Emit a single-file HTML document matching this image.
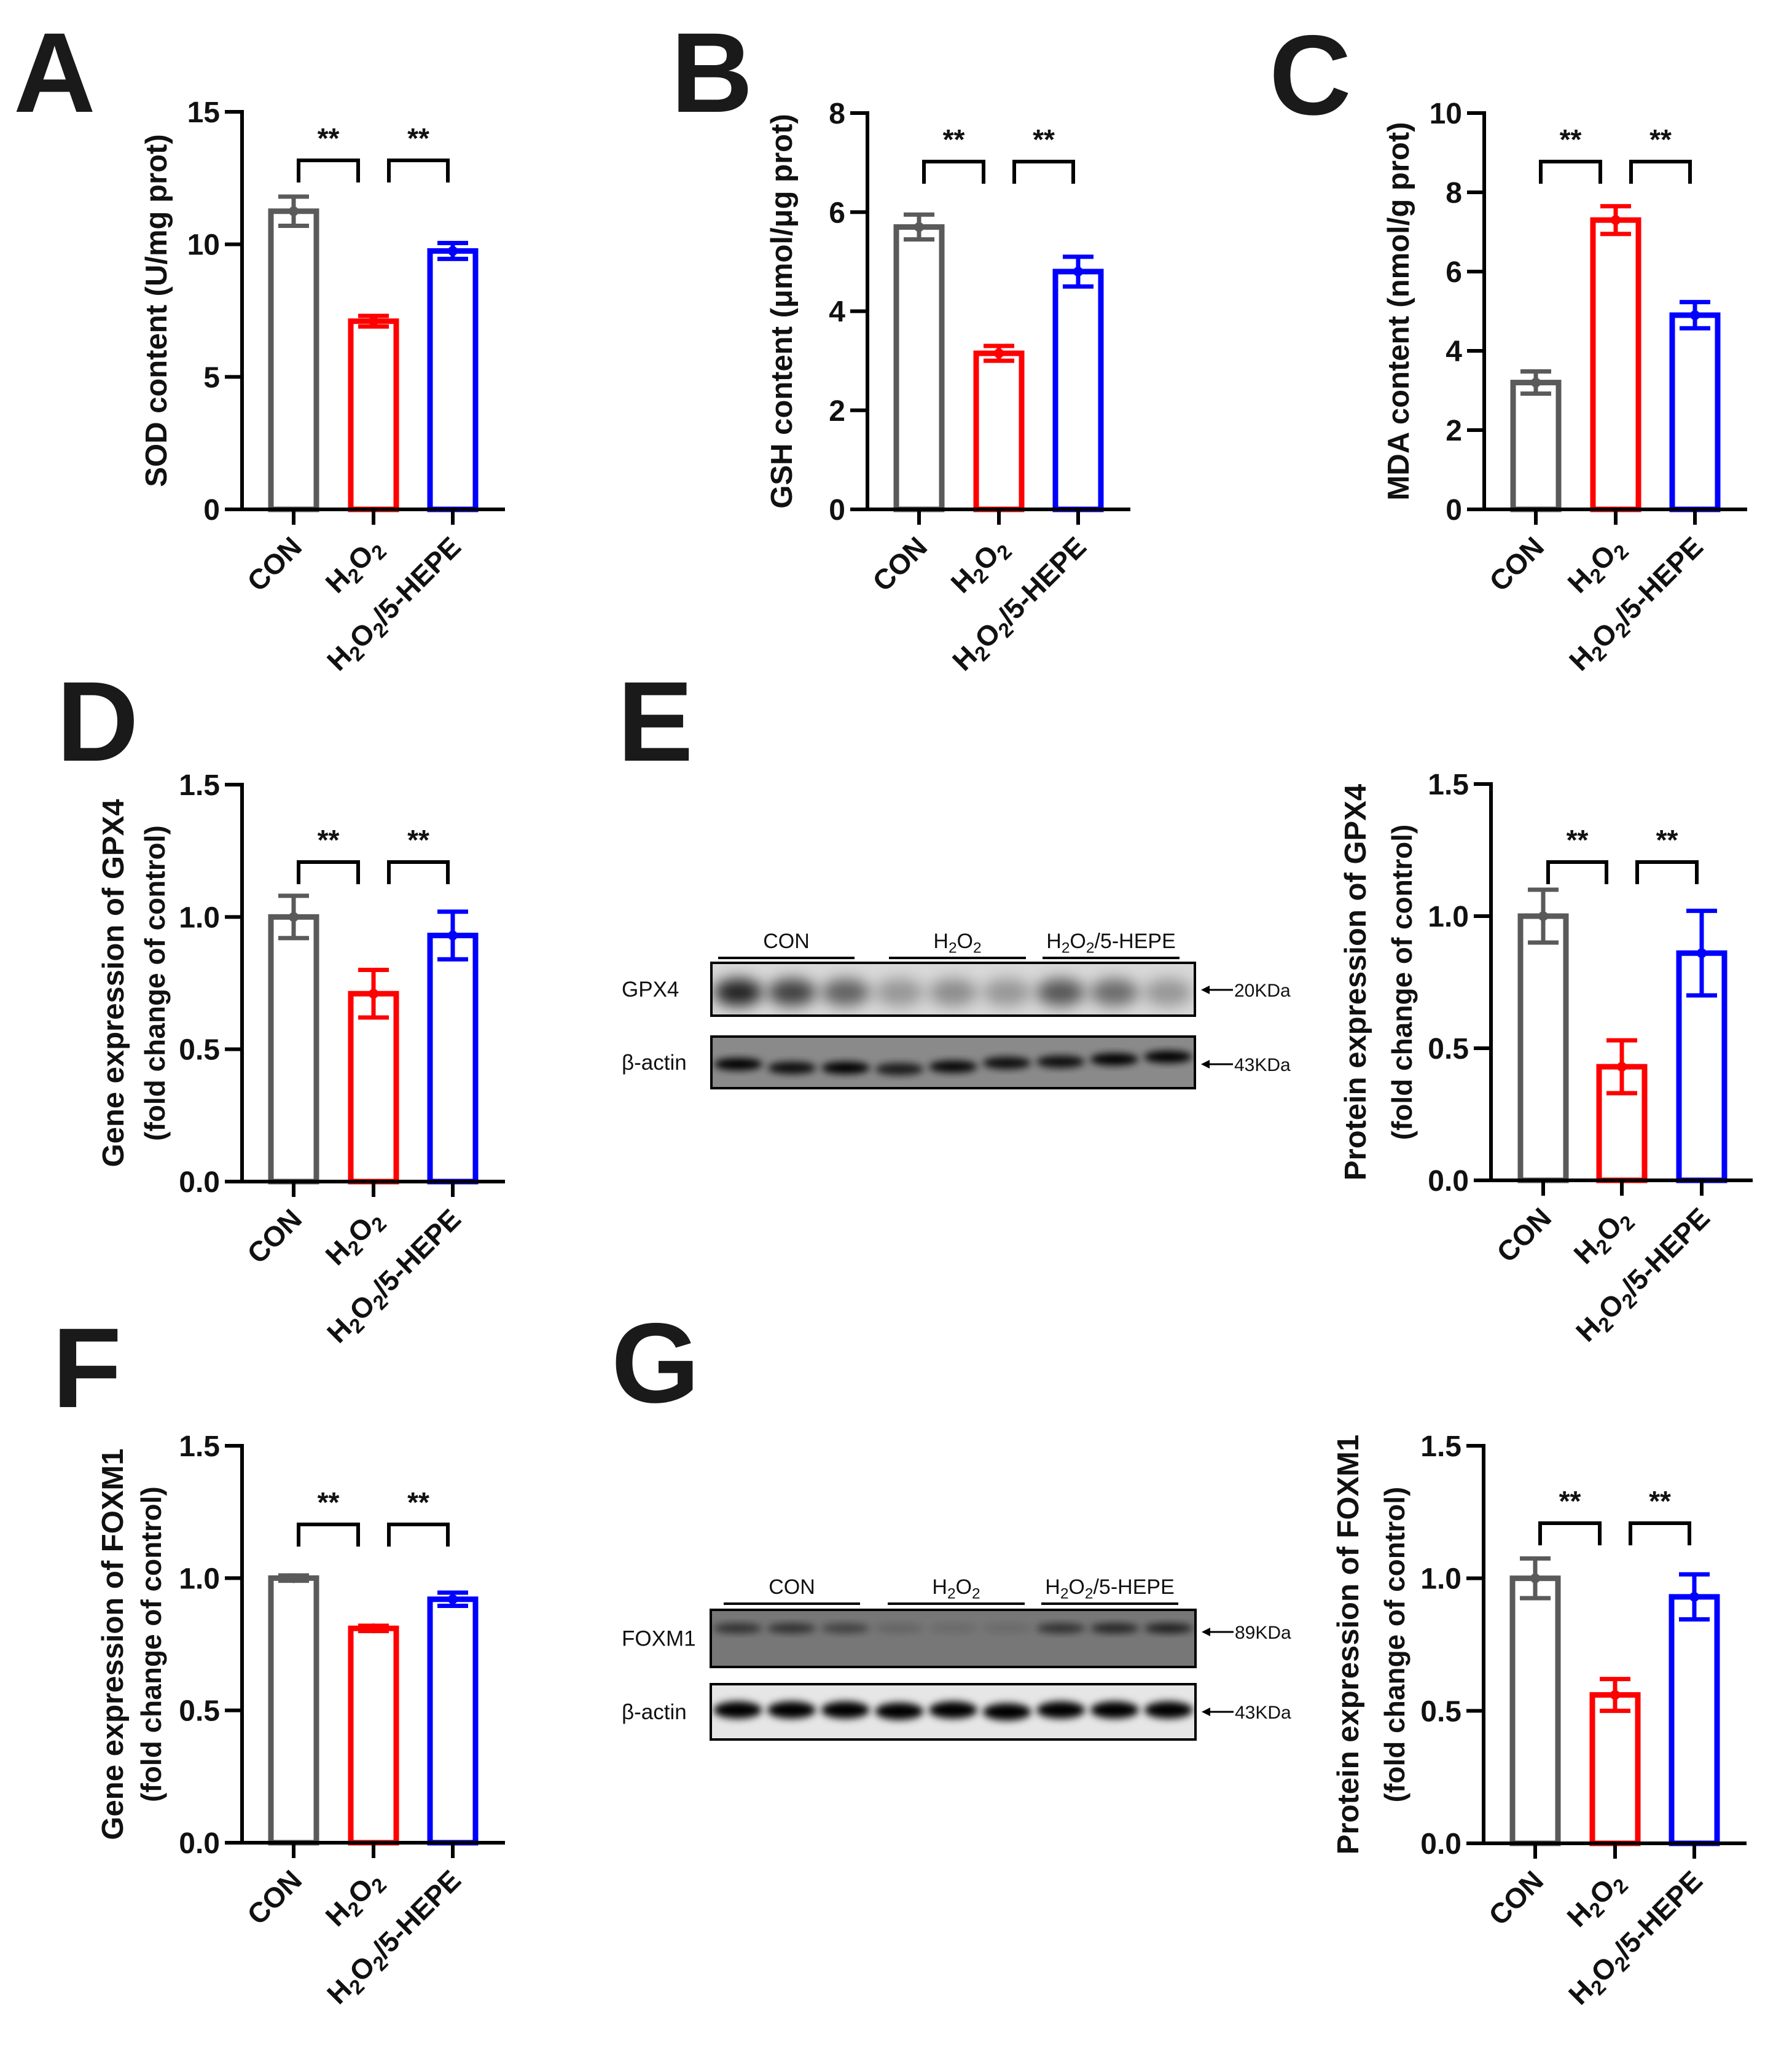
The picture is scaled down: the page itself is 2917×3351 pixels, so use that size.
<!DOCTYPE html>
<html><head><meta charset="utf-8"><style>
html,body{margin:0;padding:0;background:#fff}
svg{display:block;font-family:"Liberation Sans",Arial,sans-serif}
</style></head><body>
<svg id="fig" width="2917" height="3351" viewBox="0 0 2917 3351" xmlns="http://www.w3.org/2000/svg">
<defs>
<filter id="blur6" x="-50%" y="-50%" width="200%" height="200%"><feGaussianBlur stdDeviation="6"/></filter>
<filter id="blur12" x="-50%" y="-50%" width="200%" height="200%"><feGaussianBlur stdDeviation="12"/></filter>
</defs>
</svg>
<script>
const categories = ["CON", "H2O2", "H2O2/5-HEPE"];
const colors = ["#5a5a5a", "#ff0000", "#0000ff"];
const sodMeans = [11.25, 7.1, 9.75];
const sodErrs = [0.55, 0.2, 0.3];
const sodTicks = [0, 5, 10, 15];
const gshMeans = [5.7, 3.15, 4.8];
const gshErrs = [0.25, 0.15, 0.3];
const gshTicks = [0, 2, 4, 6, 8];
const mdaMeans = [3.2, 7.3, 4.9];
const mdaErrs = [0.28, 0.35, 0.33];
const mdaTicks = [0, 2, 4, 6, 8, 10];
const gpx4GeneMeans = [1.0, 0.71, 0.93];
const gpx4GeneErrs = [0.08, 0.09, 0.09];
const gpx4ProtMeans = [1.0, 0.43, 0.86];
const gpx4ProtErrs = [0.1, 0.1, 0.16];
const foxm1GeneMeans = [1.0, 0.81, 0.92];
const foxm1GeneErrs = [0.01, 0.01, 0.025];
const foxm1ProtMeans = [1.0, 0.56, 0.93];
const foxm1ProtErrs = [0.075, 0.06, 0.085];
const foldTicks = ["0.0", "0.5", "1.0", "1.5"];

const svg = document.getElementById('fig');
const NS = 'http://www.w3.org/2000/svg';
function mk(tag, attrs, parent) {
  const e = document.createElementNS(NS, tag);
  for (const k in attrs) e.setAttribute(k, attrs[k]);
  (parent || svg).appendChild(e);
  return e;
}
function labelText(parent, txt, x, y, size, anchor, weight, rot) {
  const t = mk('text', {x: x, y: y, 'font-size': size, 'text-anchor': anchor, 'font-weight': weight || 'bold', fill: '#111'}, parent);
  if (rot) t.setAttribute('transform', 'rotate(' + rot + ' ' + x + ' ' + y + ')');
  if (txt.indexOf('H2O2') >= 0) {
    const segs = [['H',0],['2',1],['O',0],['2',1],[txt.slice(4),0]];
    segs.forEach(s => {
      if (!s[0]) return;
      const sp = mk('tspan', {}, t);
      if (s[1]) { sp.setAttribute('font-size', size * 0.72); sp.setAttribute('dy', size * 0.22); }
      else if (sp.previousSibling) { sp.setAttribute('dy', -size * 0.22); }
      sp.textContent = s[0];
    });
  } else t.textContent = txt;
  return t;
}

function panelLetter(ch, x, y) {
  const t = mk('text', {x: x, y: y, 'font-size': 185, 'font-weight': 'bold', fill: '#1a1a1a'});
  
  
  t.textContent = ch;
}

function barChart(cfg) {
  const g = mk('g', {});
  
  
  const yScale = v => cfg.y0 - (v / cfg.ymax) * (cfg.y0 - cfg.yTop);
  const xAt = i => cfg.ax + cfg.offs[i];
  const bw = 74;
  cfg.means.forEach((m, i) => {
    const r = mk('rect', {x: xAt(i) - bw / 2, y: yScale(m), width: bw, height: cfg.y0 - yScale(m), fill: '#fff', stroke: colors[i], 'stroke-width': 9}, g);
    
    
  });
  cfg.means.forEach((m, i) => {
    const eg = mk('g', {stroke: colors[i], 'stroke-width': 7}, g);
    
    
    const x = xAt(i), hi = yScale(m + cfg.errs[i]), lo = yScale(m - cfg.errs[i]);
    mk('line', {x1: x, x2: x, y1: hi, y2: lo}, eg);
    mk('line', {x1: x - 25, x2: x + 25, y1: hi, y2: hi}, eg);
    mk('line', {x1: x - 25, x2: x + 25, y1: lo, y2: lo}, eg);
    mk('circle', {cx: x, cy: yScale(m), r: 8, fill: colors[i], stroke: 'none'}, eg);
  });
  const axg = mk('g', {stroke: '#000', 'stroke-width': 6, fill: 'none'}, g);
  
  
  mk('line', {x1: cfg.ax, x2: cfg.ax, y1: cfg.yTop - 3, y2: cfg.y0 + 3}, axg);
  mk('line', {x1: cfg.ax - 28, x2: cfg.xEnd, y1: cfg.y0, y2: cfg.y0}, axg);
  cfg.ticks.forEach(tv => {
    const y = yScale(parseFloat(tv));
    mk('line', {x1: cfg.ax - 28, x2: cfg.ax, y1: y, y2: y}, axg);
    const t = mk('text', {x: cfg.ax - 36, y: y + 17, 'font-size': 48, 'font-weight': 'bold', 'text-anchor': 'end', fill: '#111', stroke: 'none'}, g);
    
    
    t.textContent = tv;
  });
  cfg.means.forEach((m, i) => {
    mk('line', {x1: xAt(i), x2: xAt(i), y1: cfg.y0, y2: cfg.y0 + 25}, axg);
  });
  if (cfg.xlabels) {
    categories.forEach((c, i) => {
      const t = labelText(g, c, xAt(i) + 16, cfg.y0 + 64, 46, 'end', 'bold', -45);
      
      
    });
  }
  const midY = (cfg.yTop + cfg.y0) / 2;
  cfg.title.forEach((line, k) => {
    const x = cfg.ax + cfg.titleOffs[k];
    const t = mk('text', {x: x, y: midY, 'font-size': k === 0 ? 49 : 46, 'font-weight': 'bold', 'text-anchor': 'middle', fill: '#111', transform: 'rotate(-90 ' + x + ' ' + midY + ')'}, g);
    
    
    t.setAttribute('dominant-baseline', 'central');
    t.textContent = line;
  });
  const pairs = [[xAt(0) + 8, xAt(1) - 25], [xAt(1) + 25, xAt(2) - 8]];
  pairs.forEach(p => {
    const b = mk('path', {d: 'M' + p[0] + ' ' + (cfg.brY + 36) + 'V' + cfg.brY + 'H' + p[1] + 'V' + (cfg.brY + 36), fill: 'none', stroke: '#000', 'stroke-width': 6}, g);
    
    
    const s = mk('text', {x: (p[0] + p[1]) / 2, y: cfg.brY - 20, 'font-size': 46, 'font-weight': 'bold', 'text-anchor': 'middle', fill: '#111'}, g);
    
    
    s.textContent = '**';
  });
}

const offsA = [84, 214, 343];
panelLetter('A', 22, 182);
barChart({name: 'chart-sod', ax: 394, yTop: 182, y0: 829, xEnd: 822, ymax: 15, ticks: sodTicks.map(String), offs: offsA, means: sodMeans, errs: sodErrs, title: ['SOD content (U/mg prot)'], titleOffs: [-139], brY: 261, xlabels: true});
panelLetter('B', 1092, 182);
barChart({name: 'chart-gsh', ax: 1412, yTop: 184, y0: 829, xEnd: 1840, ymax: 8, ticks: gshTicks.map(String), offs: offsA, means: gshMeans, errs: gshErrs, title: ['GSH content (\u03bcmol/\u03bcg prot)'], titleOffs: [-139], brY: 263, xlabels: true});
panelLetter('C', 2066, 186);
barChart({name: 'chart-mda', ax: 2416, yTop: 184, y0: 829, xEnd: 2844, ymax: 10, ticks: mdaTicks.map(String), offs: offsA, means: mdaMeans, errs: mdaErrs, title: ['MDA content (nmol/g prot)'], titleOffs: [-139], brY: 263, xlabels: true});

panelLetter('D', 92, 1238);
barChart({name: 'chart-gpx4-gene', ax: 394, yTop: 1277, y0: 1923, xEnd: 822, ymax: 1.5, ticks: foldTicks, offs: offsA, means: gpx4GeneMeans, errs: gpx4GeneErrs, title: ['Gene expression of GPX4', '(fold change of control)'], titleOffs: [-209, -142], brY: 1403, xlabels: true});
panelLetter('E', 1005, 1238);
barChart({name: 'chart-gpx4-protein', ax: 2427, yTop: 1276, y0: 1921, xEnd: 2853, ymax: 1.5, ticks: foldTicks, offs: [85, 213, 343], means: gpx4ProtMeans, errs: gpx4ProtErrs, title: ['Protein expression of GPX4', '(fold change of control)'], titleOffs: [-220, -145], brY: 1403, xlabels: true});

panelLetter('F', 85, 2290);
barChart({name: 'chart-foxm1-gene', ax: 394, yTop: 2353, y0: 2999, xEnd: 822, ymax: 1.5, ticks: foldTicks, offs: offsA, means: foxm1GeneMeans, errs: foxm1GeneErrs, title: ['Gene expression of FOXM1', '(fold change of control)'], titleOffs: [-210, -148], brY: 2481, xlabels: true});
panelLetter('G', 995, 2282);
barChart({name: 'chart-foxm1-protein', ax: 2415, yTop: 2353, y0: 3000, xEnd: 2843, ymax: 1.5, ticks: foldTicks, offs: offsA, means: foxm1ProtMeans, errs: foxm1ProtErrs, title: ['Protein expression of FOXM1', '(fold change of control)'], titleOffs: [-220, -145], brY: 2479, xlabels: true});

function blot(cfg) {
  const g = mk('g', {});
  
  
  const lanesX = [];
  const w = cfg.x2 - cfg.x1;
  for (let i = 0; i < 9; i++) lanesX.push(cfg.x1 + w * (i + 0.5) / 9);
  cfg.groups.forEach((gr, k) => {
    const l = mk('line', {x1: gr[0], x2: gr[1], y1: cfg.lineY, y2: cfg.lineY, stroke: '#000', 'stroke-width': 4}, g);
    
    
    const t = labelText(g, categories[k], (gr[0] + gr[1]) / 2, cfg.lineY - 16, 34, 'middle', 'normal', 0);
    
    
  });
  cfg.rows.forEach(row => {
    const rg = mk('g', {}, g);
    
    
    const clip = 'clip' + Math.round(row.y1);
    const cp = mk('clipPath', {id: clip}, rg);
    mk('rect', {x: cfg.x1, y: row.y1, width: w, height: row.y2 - row.y1}, cp);
    const inner = mk('g', {'clip-path': 'url(#' + clip + ')'}, rg);
    mk('rect', {x: cfg.x1, y: row.y1, width: w, height: row.y2 - row.y1, fill: row.bg}, inner);
    row.bands.forEach((b, i) => {
      mk('ellipse', {cx: lanesX[i], cy: row.bandY + (row.shift ? row.shift[i] : 0), rx: w / 20, ry: row.bandH, fill: '#000', opacity: b, filter: 'url(#' + row.blur + ')'}, inner);
    });
    mk('rect', {x: cfg.x1, y: row.y1, width: w, height: row.y2 - row.y1, fill: 'none', stroke: '#000', 'stroke-width': 4}, rg);
    const lt = mk('text', {x: cfg.labelX, y: (row.y1 + row.y2) / 2 + 12, 'font-size': 35, fill: '#111'}, rg);
    lt.textContent = row.label;
    const ay = row.arrowY;
    mk('line', {x1: cfg.x2 + 14, x2: cfg.x2 + 62, y1: ay, y2: ay, stroke: '#000', 'stroke-width': 3}, rg);
    mk('path', {d: 'M' + (cfg.x2 + 10) + ' ' + ay + 'l14 -7v14z', fill: '#000'}, rg);
    const kt = mk('text', {x: cfg.x2 + 64, y: ay + 11, 'font-size': 30, fill: '#111'}, rg);
    kt.textContent = row.kda;
  });
}
blot({name: 'western-blot-gpx4', x1: 1158, x2: 1945, labelX: 1012, lineY: 1559,
  groups: [[1169, 1391], [1447, 1670], [1697, 1920]],
  rows: [
    {label: 'GPX4', y1: 1567, y2: 1653, bg: '#d8d8d8', blur: 'blur12', bandY: 1615, bandH: 22, arrowY: 1611, kda: '20KDa',
     bands: [0.85, 0.7, 0.55, 0.3, 0.35, 0.3, 0.6, 0.5, 0.3]},
    {label: '\u03b2-actin', y1: 1687, y2: 1771, bg: '#8a8a8a', blur: 'blur6', bandY: 1732, bandH: 10, arrowY: 1732, kda: '43KDa',
     bands: [1, 0.9, 1, 0.8, 0.95, 0.9, 0.9, 1, 1], shift: [0, 6, 6, 8, 4, -2, -4, -8, -12]}
  ]});
blot({name: 'western-blot-foxm1', x1: 1157, x2: 1946, labelX: 1012, lineY: 2610,
  groups: [[1178, 1400], [1445, 1668], [1695, 1918]],
  rows: [
    {label: 'FOXM1', y1: 2620, y2: 2713, bg: '#777777', blur: 'blur6', bandY: 2650, bandH: 8, arrowY: 2656, kda: '89KDa',
     bands: [0.6, 0.6, 0.45, 0.15, 0.1, 0.1, 0.6, 0.7, 0.75]},
    {label: '\u03b2-actin', y1: 2741, y2: 2831, bg: '#e6e6e6', blur: 'blur6', bandY: 2783, bandH: 14, arrowY: 2786, kda: '43KDa',
     bands: [1, 1, 1, 1, 1, 1, 1, 1, 1], shift: [0, 0, 0, 2, 0, 3, 0, 0, 0]}
  ]});
</script>
</body></html>
